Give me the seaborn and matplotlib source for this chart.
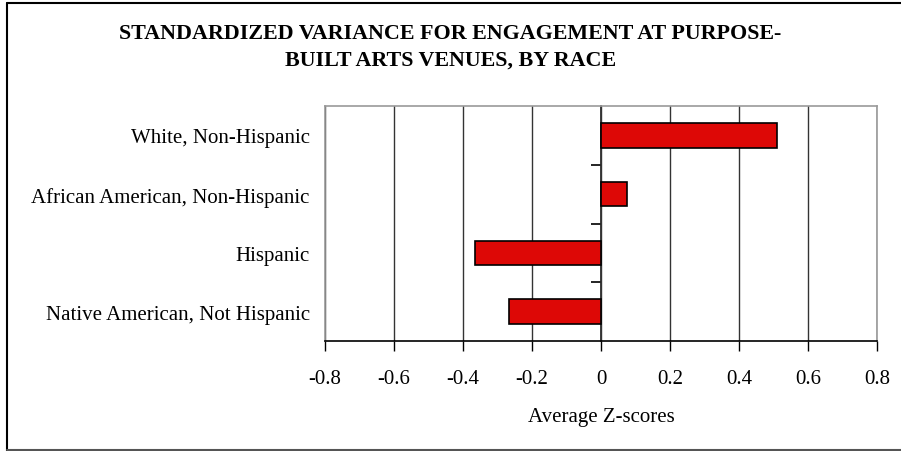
import matplotlib
matplotlib.use("Agg")
import matplotlib.pyplot as plt
import seaborn as sns
import pandas as pd
from matplotlib.lines import Line2D

# data
races = [
    "White, Non-Hispanic",
    "African American, Non-Hispanic",
    "Hispanic",
    "Native American, Not Hispanic",
]
z_scores = [0.51, 0.074, -0.365, -0.267]
x_ticks = [-0.8, -0.6, -0.4, -0.2, 0, 0.2, 0.4, 0.6, 0.8]
x_tick_labels = ["-0.8", "-0.6", "-0.4", "-0.2", "0", "0.2", "0.4", "0.6", "0.8"]

df = pd.DataFrame({"race": races, "z": z_scores})

sns.set_theme(style="white")
plt.rcParams["font.family"] = ["Liberation Serif", "DejaVu Serif"]
plt.rcParams["text.color"] = "black"
plt.rcParams["xtick.color"] = "black"
plt.rcParams["ytick.color"] = "black"
plt.rcParams["axes.labelcolor"] = "black"

fig = plt.figure(figsize=(9.01, 4.52), dpi=100)
ax = fig.add_axes([325 / 901, 1 - 342 / 452, (877 - 325) / 901, (342 - 107) / 452])

sns.barplot(data=df, x="z", y="race", orient="h", color="#DD0806",
            saturation=1, edgecolor="black", linewidth=1.2, width=0.42, ax=ax)

ax.set_xlim(-0.8, 0.8)
ax.set_xticks(x_ticks)
ax.set_xticklabels(x_tick_labels, fontsize=15)
ax.grid(axis="x", color="#333333", linewidth=1)
ax.set_axisbelow(True)
ax.tick_params(axis="x", bottom=True, direction="out", length=7, width=1,
               color="black", pad=13.5)
ax.tick_params(axis="y", left=False, pad=5, labelsize=15)
ax.set_ylabel("")
ax.set_xlabel("Average Z-scores", fontsize=15, labelpad=13)

for side in ["left", "top", "right"]:
    ax.spines[side].set_color("#999999")
    ax.spines[side].set_linewidth(1.2)
ax.spines["bottom"].set_color("black")
ax.spines["bottom"].set_linewidth(1.2)

# value axis at zero with category separator ticks
sec = ax.secondary_yaxis(0.5)
sec.set_yticks([0.5, 1.5, 2.5])
sec.set_yticklabels([])
sec.tick_params(axis="y", direction="in", length=7, width=1.2, color="black")
sec.spines["left"].set_color("black")
sec.spines["left"].set_linewidth(1.2)

fig.text(0.5, 1 - 34 / 452, "STANDARDIZED VARIANCE FOR ENGAGEMENT AT PURPOSE-",
         ha="center", va="center", fontsize=15.8, fontweight="bold")
fig.text(0.5, 1 - 61 / 452, "BUILT ARTS VENUES, BY RACE",
         ha="center", va="center", fontsize=15.8, fontweight="bold")

# chart frame
fig.add_artist(Line2D([6.5 / 901, 6.5 / 901], [0, 1 - 3.5 / 452], color="black", lw=1.5))
fig.add_artist(Line2D([6.5 / 901, 1], [1 - 3.5 / 452, 1 - 3.5 / 452], color="black", lw=1.5))
fig.add_artist(Line2D([6.5 / 901, 1], [0.8 / 452, 0.8 / 452], color="#555555", lw=1.5))

fig.savefig("out.png", dpi=100)
